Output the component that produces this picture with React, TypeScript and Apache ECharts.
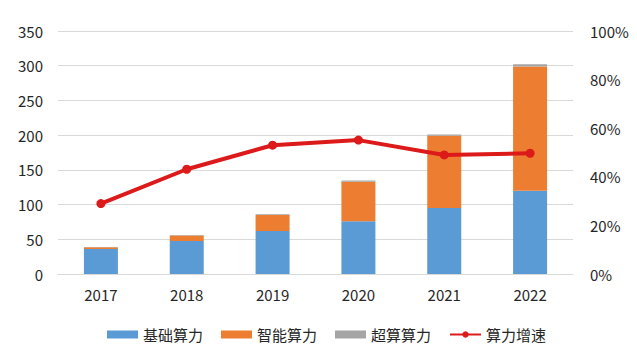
import React, { useEffect, useRef } from "react";
import * as echarts from "echarts";

const years = ["2017", "2018", "2019", "2020", "2021", "2022"];
const basic = [36, 47.5, 62, 76, 95, 120];
const intelligent = [2.5, 8, 23, 57, 104, 179];
const supercomp = [0.5, 0.8, 1, 1.5, 2, 3];
const growth = [0.29, 0.431, 0.53, 0.551, 0.49, 0.497];
const leftTicks = { min: 0, max: 350, interval: 50 };
const rightTicks = { min: 0, max: 1, interval: 0.2 };

const FONT = '"Noto Sans CJK SC", "Noto Sans", sans-serif';

export default function App() {
  const ref = useRef<HTMLDivElement>(null);
  useEffect(() => {
    const chart = echarts.init(ref.current!, undefined, { renderer: "svg" });
    chart.setOption({
      animation: false,
      backgroundColor: "#ffffff",
      textStyle: { fontFamily: FONT },
      grid: { left: 58, right: 64, top: 31, bottom: 83 },
      legend: {
        left: 102,
        top: 322,
        itemWidth: 31,
        itemHeight: 8,
        itemGap: 18,
        textStyle: { fontSize: 15, color: "#262626", fontFamily: FONT },
        data: [
          { name: "基础算力", icon: "rect" },
          { name: "智能算力", icon: "rect" },
          { name: "超算算力", icon: "rect" },
          { name: "算力增速" },
        ],
      },
      xAxis: {
        type: "category",
        data: years,
        axisLine: { lineStyle: { color: "#d9d9d9", width: 1 } },
        axisTick: { show: false },
        axisLabel: { color: "#262626", fontSize: 15, margin: 13, fontFamily: FONT },
      },
      yAxis: [
        {
          type: "value",
          ...leftTicks,
          axisLine: { show: false },
          axisTick: { show: false },
          splitLine: { lineStyle: { color: "#d9d9d9", width: 1 } },
          axisLabel: { color: "#262626", fontSize: 15, margin: 15, fontFamily: FONT },
        },
        {
          type: "value",
          ...rightTicks,
          axisLine: { show: false },
          axisTick: { show: false },
          splitLine: { show: false },
          axisLabel: {
            color: "#262626",
            fontSize: 15,
            margin: 17,
            fontFamily: FONT,
            formatter: (v: number) => Math.round(v * 100) + "%",
          },
        },
      ],
      series: [
        {
          name: "基础算力",
          type: "bar",
          stack: "total",
          barWidth: 34,
          data: basic,
          itemStyle: { color: "#5B9BD5" },
        },
        {
          name: "智能算力",
          type: "bar",
          stack: "total",
          barWidth: 34,
          data: intelligent,
          itemStyle: { color: "#ED7D31" },
        },
        {
          name: "超算算力",
          type: "bar",
          stack: "total",
          barWidth: 34,
          data: supercomp,
          itemStyle: { color: "#A5A5A5" },
        },
        {
          name: "算力增速",
          type: "line",
          yAxisIndex: 1,
          data: growth,
          symbol: "circle",
          symbolSize: 9,
          lineStyle: { color: "#DD1A1A", width: 4 },
          itemStyle: { color: "#DD1A1A" },
        },
      ],
    });
    return () => chart.dispose();
  }, []);
  return (
    <div
      ref={ref}
      style={{ position: "fixed", left: 0, top: 0, width: 637, height: 357, background: "#fff" }}
    />
  );
}
